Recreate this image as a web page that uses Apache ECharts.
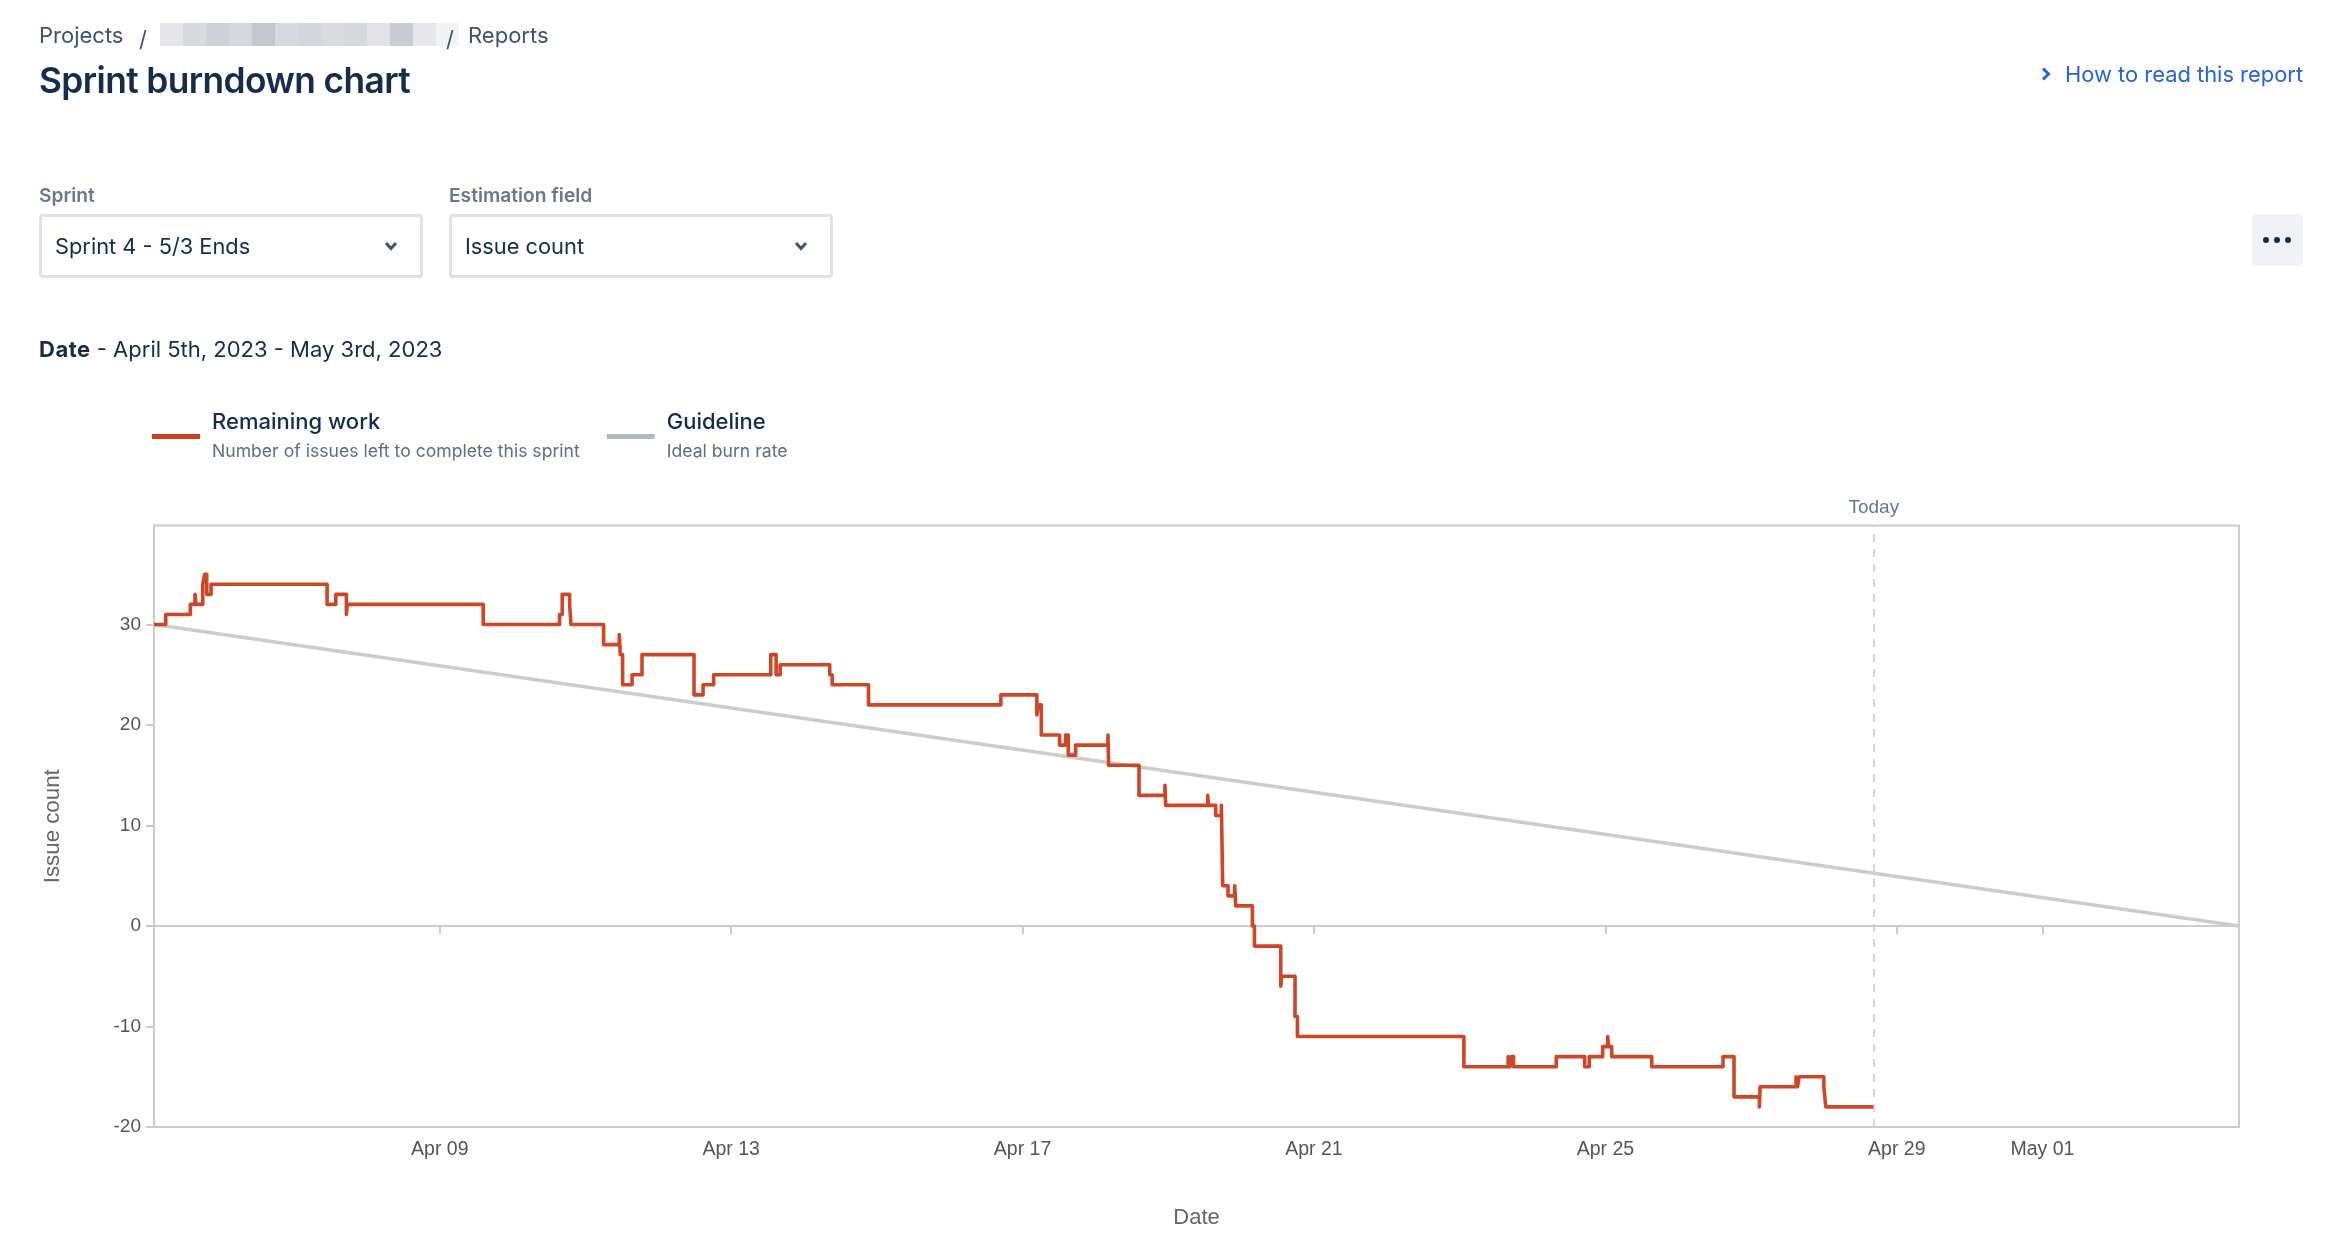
<!DOCTYPE html>
<html lang="en">
<head>
    <meta charset="UTF-8">
    <title>Sprint burndown chart</title>
    <style>
        html, body { margin: 0; padding: 0; background: #fff; }
        body { width: 2332px; height: 1244px; position: relative; overflow: hidden; font-family: Inter, "Noto Sans", sans-serif; color: #172B4D; }
        #main { position: absolute; left: 0; top: 0; width: 2332px; height: 1244px; }
        .abs { position: absolute; white-space: nowrap; line-height: 1; }
        .crumb { font-size: 22px; color: #42526E; top: 24px; }
        .field { font-size: 19.2px; font-weight: 600; color: #6B778C; top: 186px; }
        .select { position: absolute; top: 214px; width: 378px; height: 58px; border: 3px solid #DFE1E6; border-radius: 4px; }
        .select span { position: absolute; left: 13px; top: 19px; font-size: 21.8px; line-height: 1; white-space: nowrap; }
        .select svg { position: absolute; right: 22px; top: 24px; }
        #blur { position: absolute; left: 160px; top: 23px; height: 23px; display: flex; }
        #blur i { display: block; width: 23px; height: 23px; }
        #more { position: absolute; left: 2252px; top: 214px; width: 51px; height: 52px; background: #F0F1F4; border-radius: 5px; }
        #more b { position: absolute; top: 23px; width: 6px; height: 6px; border-radius: 50%; background: #172B4D; }
    </style>
</head>
<body>
<div id="main"></div>

<div class="abs crumb" style="left:39px;">Projects</div>
<div class="abs crumb" style="left:139px;top:28px;">/</div>
<div id="blur"></div>
<div class="abs crumb" style="left:446px;top:28px;">/</div>
<div class="abs crumb" style="left:468px;">Reports</div>
<div class="abs" style="left:39px;top:63px;font-size:35.3px;font-weight:600;letter-spacing:-0.6px;">Sprint burndown chart</div>

<svg class="abs" style="left:2041px;top:67px;" width="10" height="14" viewBox="0 0 10 14"><path d="M2 1.5 L7.5 7 L2 12.5" fill="none" stroke="#2563DE" stroke-width="3"/></svg>
<div class="abs" style="left:2065px;top:64px;font-size:21.9px;color:#2563DE;">How to read this report</div>

<div class="abs field" style="left:39px;">Sprint</div>
<div class="abs field" style="left:449px;">Estimation field</div>
<div class="select" style="left:39px;"><span>Sprint 4 - 5/3 Ends</span>
    <svg width="14" height="10" viewBox="0 0 14 10"><path d="M2 2 L7 7.5 L12 2" fill="none" stroke="#42526E" stroke-width="3"/></svg></div>
<div class="select" style="left:449px;"><span>Issue count</span>
    <svg width="14" height="10" viewBox="0 0 14 10"><path d="M2 2 L7 7.5 L12 2" fill="none" stroke="#42526E" stroke-width="3"/></svg></div>
<div id="more"><b style="left:11px;"></b><b style="left:22px;"></b><b style="left:33px;"></b></div>

<div class="abs" style="left:39px;top:338px;font-size:22px;"><b style="font-weight:700;letter-spacing:0.5px;">Date</b> - April 5th, 2023 - May 3rd, 2023</div>

<script src="https://cdn.jsdelivr.net/npm/echarts@6/dist/echarts.min.js"></script>
<script>
    // days are decimal days of April 2023 (33 = May 3rd)
    var remainingDays = [
        5.077, 5.238, 5.576, 5.640, 5.654, 5.746, 5.773, 5.801, 5.860, 7.453,
        7.573, 7.718, 7.730, 9.596, 10.644, 10.681, 10.782, 10.801, 11.249, 11.464,
        11.478, 11.510, 11.639, 11.776, 12.490, 12.614, 12.760, 13.543, 13.617, 13.672,
        14.353, 14.386, 14.885, 16.702, 17.196, 17.216, 17.257, 17.508, 17.591, 17.628,
        17.728, 18.172, 18.181, 18.598, 18.955, 18.964, 19.541, 19.551, 19.651, 19.729,
        19.747, 19.820, 19.912, 19.926, 20.155, 20.183, 20.544, 20.558, 20.740, 20.773,
        23.058, 23.666, 23.690, 23.710, 23.740, 24.326, 24.716, 24.779, 24.963, 25.032,
        25.043, 25.087, 25.636, 26.615, 26.766, 27.114, 27.124, 27.618, 27.639, 27.659,
        27.999, 28.026, 28.685
    ];
    var remainingValues = [
        30, 31, 32, 33, 32, 34, 35, 33, 34, 32,
        33, 31, 32, 30, 31, 33, 32, 30, 28, 29,
        27, 24, 25, 27, 23, 24, 25, 27, 25, 26,
        25, 24, 22, 23, 21, 22, 19, 18, 19, 17,
        18, 19, 16, 13, 14, 12, 13, 12, 11, 12,
        4, 3, 4, 2, 0, -2, -6, -5, -9, -11,
        -14, -13, -14, -13, -14, -13, -14, -13, -12, -11,
        -12, -13, -14, -13, -17, -18, -16, -15, -16, -15,
        -16, -18, -18
    ];
    var guideDays = [5.077, 33.698];
    var guideValues = [30, 0];
    var todayDay = 28.685;

    var xTickDays = [9, 13, 17, 21, 25, 29, 31];
    var xTickLabels = ['Apr 09', 'Apr 13', 'Apr 17', 'Apr 21', 'Apr 25', 'Apr 29', 'May 01'];
    var yTicks = [-20, -10, 0, 10, 20, 30];

    var legendNotes = {
        'Remaining work': 'Number of issues left to complete this sprint',
        'Guideline': 'Ideal burn rate'
    };
    var blurShades = ['#e4e6ea', '#d6d9de', '#ced1d7', '#d4d7dc', '#c4c7ce', '#d6d9de', '#d3d6dc', '#d9dbe0', '#d5d8dd', '#e1e3e7', '#c9ccd2', '#e6e7ea', '#f1f2f4'];

    function dayToTime(d) {
        return Date.UTC(2023, 3, 1) + (d - 1) * 86400000;
    }
    function pairs(days, values) {
        return days.map(function (d, i) { return [dayToTime(d), values[i]]; });
    }

    var blur = document.getElementById('blur');
    blurShades.forEach(function (c) {
        var cell = document.createElement('i');
        cell.style.background = c;
        blur.appendChild(cell);
    });

    var xTickTimes = xTickDays.map(dayToTime);
    var myChart = echarts.init(document.getElementById('main'));

    var option = {
        animation: false,
        textStyle: { fontFamily: '"Liberation Sans", Arial, sans-serif' },
        legend: {
            left: 152,
            top: 411,
            padding: 0,
            icon: 'rect',
            itemWidth: 48,
            itemHeight: 5,
            itemGap: 27,
            selectedMode: false,
            data: ['Remaining work', 'Guideline'],
            formatter: function (name) {
                return '{a|' + name + '}\n{b|' + legendNotes[name] + '}';
            },
            textStyle: {
                padding: [0, 0, 0, 7],
                rich: {
                    a: { fontFamily: 'Inter', fontSize: 22, fontWeight: 500, color: '#172B4D', lineHeight: 30 },
                    b: { fontFamily: 'Inter', fontSize: 17.6, color: '#5E6C84', lineHeight: 29 }
                }
            }
        },
        grid: {
            show: true,
            left: 154,
            top: 525.5,
            width: 2085,
            height: 601.5,
            outerBoundsMode: 'none',
            borderColor: '#ccc',
            borderWidth: 2,
            backgroundColor: 'transparent'
        },
        xAxis: {
            type: 'value',
            min: dayToTime(guideDays[0]),
            max: dayToTime(guideDays[1]),
            name: 'Date',
            nameLocation: 'middle',
            nameGap: 80,
            nameTextStyle: { fontSize: 22, color: '#666' },
            axisLine: { onZero: true, lineStyle: { color: '#ccc', width: 2 } },
            axisTick: { show: true, length: 8, customValues: xTickTimes, lineStyle: { color: '#ccc', width: 2 } },
            axisLabel: {
                customValues: xTickTimes,
                margin: 13,
                fontSize: 19.5,
                color: '#555',
                formatter: function (v) { return xTickLabels[xTickTimes.indexOf(v)]; }
            },
            splitLine: { show: false }
        },
        yAxis: {
            type: 'value',
            min: -20,
            max: 39.85,
            name: 'Issue count',
            nameLocation: 'middle',
            nameGap: 90,
            nameTextStyle: { fontSize: 22.3, color: '#666' },
            axisLine: { show: true, onZero: false, lineStyle: { color: '#ccc', width: 2 } },
            axisTick: { show: true, length: 8, customValues: yTicks, lineStyle: { color: '#ccc', width: 2 } },
            axisLabel: { customValues: yTicks, margin: 13, fontSize: 19, color: '#555' },
            splitLine: { show: false }
        },
        series: [
            {
                name: 'Guideline',
                type: 'line',
                showSymbol: false,
                silent: true,
                color: '#B3B9C4',
                lineStyle: { color: '#ccc', width: 3.6 },
                data: pairs(guideDays, guideValues),
                markLine: {
                    silent: true,
                    symbol: 'none',
                    animation: false,
                    lineStyle: { color: '#C1C7D0', type: [8, 7], width: 1.5 },
                    label: { show: true, position: 'end', formatter: 'Today', fontSize: 19, color: '#6B778C', distance: 8 },
                    data: [{ xAxis: dayToTime(todayDay) }]
                }
            },
            {
                name: 'Remaining work',
                type: 'line',
                step: 'end',
                showSymbol: false,
                silent: true,
                color: '#CB4120',
                lineStyle: { color: '#CF4626', width: 3.6, join: 'round' },
                data: pairs(remainingDays, remainingValues)
            }
        ]
    };

    myChart.setOption(option);
</script>
</body>
</html>
